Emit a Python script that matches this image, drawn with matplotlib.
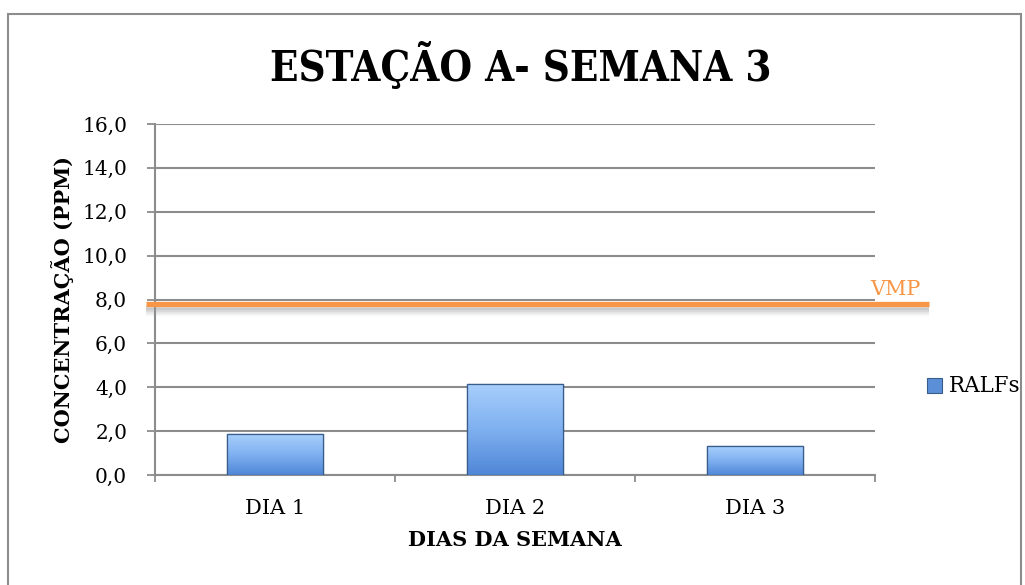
import matplotlib
matplotlib.use("Agg")
import matplotlib.pyplot as plt
import numpy as np
from matplotlib.patches import Rectangle
from matplotlib.colors import LinearSegmentedColormap

categories = ["DIA 1", "DIA 2", "DIA 3"]
ralfs = [1.85, 4.15, 1.32]
vmp = 7.8
yticks = [0, 2, 4, 6, 8, 10, 12, 14, 16]
ytick_labels = ["0,0", "2,0", "4,0", "6,0", "8,0", "10,0", "12,0", "14,0", "16,0"]

plt.rcParams['font.family'] = ['DejaVu Serif']

W, H = 1025, 585
fig = plt.figure(figsize=(W / 100, H / 100), dpi=100)
ax = fig.add_axes([155 / W, 1 - 475 / H, 720 / W, 351 / H])

x = np.arange(len(categories))
bars = ax.bar(x, ralfs, width=0.4, color="#6b9fe4", edgecolor="#385d8a", linewidth=0.9, zorder=3)

grad = np.linspace(0, 1, 256).reshape(-1, 1)
cmap = LinearSegmentedColormap.from_list("b", ["#a8cffc", "#7fb0f0", "#4f86d6"])
for b in bars:
    x0, y0 = b.get_x(), b.get_y()
    w, h = b.get_width(), b.get_height()
    im = ax.imshow(grad, extent=(x0, x0 + w, y0, y0 + h), aspect='auto', cmap=cmap,
                   zorder=3.5, origin='upper', interpolation='bilinear')
    im.set_clip_path(b)
    ax.add_patch(Rectangle((x0, y0), w, h, fill=False, edgecolor="#385d8a", lw=0.9, zorder=4))

ax.set_xlim(-0.5, 2.5)
ax.set_ylim(0, 16)
ax.set_yticks(yticks)
ax.set_yticklabels(ytick_labels, fontsize=14.5)
ax.set_xticks([-0.5, 0.5, 1.5, 2.5])
ax.set_xticklabels([])
ax.set_xticks(x, minor=True)
ax.set_xticklabels(categories, minor=True, fontsize=15)
ax.tick_params(axis='x', which='minor', length=0, pad=17)
ax.tick_params(axis='x', which='major', length=5, direction='out', color='#8c8c8c', width=1.3)
ax.tick_params(axis='y', length=6, direction='out', color='#8c8c8c', width=1.3, pad=14)
ax.yaxis.grid(True, color='#8c8c8c', linewidth=1.5, zorder=0)
ax.set_axisbelow(True)
for s in ['top', 'right']:
    ax.spines[s].set_visible(False)
for s in ['left', 'bottom']:
    ax.spines[s].set_color('#8c8c8c')
    ax.spines[s].set_linewidth(1.5)

# VMP line with soft shadow
trans = ax.get_yaxis_transform()
for off, a in [(0.18, 0.35), (0.28, 0.25), (0.38, 0.15), (0.48, 0.08)]:
    ax.plot([-0.012, 1.075], [vmp - off, vmp - off], transform=trans, color='#9a9a9a', lw=3,
            alpha=a, clip_on=False, zorder=4, solid_capstyle='butt')
ax.plot([-0.012, 1.075], [vmp, vmp], transform=trans, color='#f79646', lw=3.8,
        clip_on=False, zorder=5, solid_capstyle='butt')
ax.text(0.994, vmp + 0.42, "VMP", transform=trans, color='#f79646', fontsize=15,
        ha='left', va='baseline')

ax.set_xlabel("DIAS DA SEMANA", fontsize=15, fontweight='bold', labelpad=9)
ax.set_ylabel("CONCENTRAÇÃO (PPM)", fontsize=15, fontweight='bold', labelpad=6)
fig.text(521 / W, 1 - 66 / H, "ESTAÇÃO A- SEMANA 3", fontsize=30, fontweight='bold',
         fontstretch='condensed', ha='center', va='center')

# legend
fig.patches.append(Rectangle((927 / W, 1 - 393 / H), 15 / W, 15 / H, transform=fig.transFigure,
                             facecolor='#5b8fd8', edgecolor='#385d8a', lw=0.8))
fig.text(949 / W, 1 - 386 / H, "RALFs", fontsize=15.5, va='center', ha='left')

# chart border
fig.patches.append(Rectangle((7.5 / W, -10 / H), 1013 / W, (H - 14 + 10) / H, transform=fig.transFigure,
                             fill=False, edgecolor='#8c8c8c', lw=1.5))

fig.savefig("out.png", dpi=100)
